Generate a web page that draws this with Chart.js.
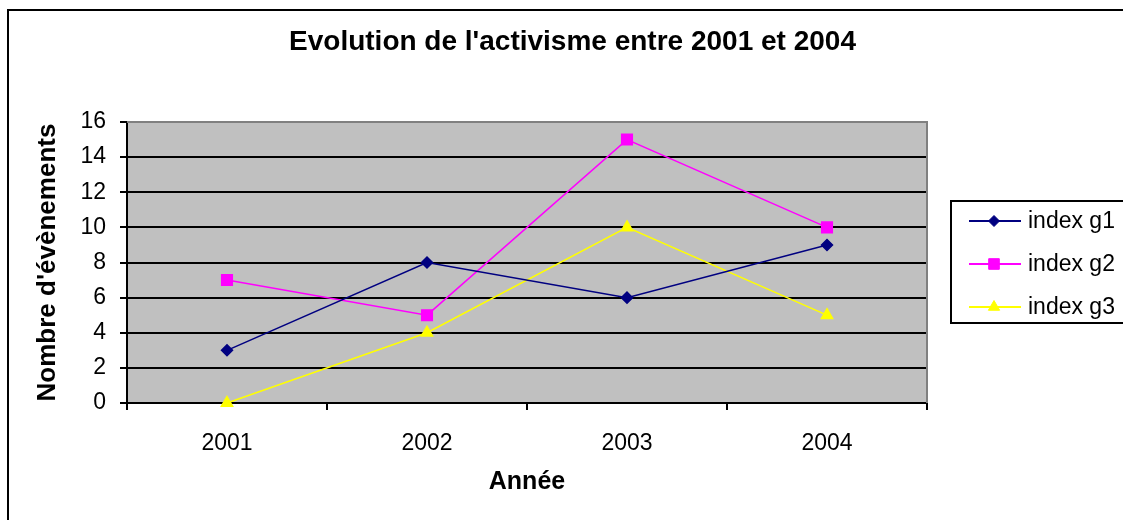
<!DOCTYPE html>
<html>
<head>
<meta charset="utf-8">
<script src="https://cdn.jsdelivr.net/npm/chart.js@4.4.1/dist/chart.umd.min.js"></script>
<style>
  html, body { margin: 0; padding: 0; background: #fff; }
</style>
</head>
<body>
<canvas id="myChart" width="1123" height="520"></canvas>
<script>
const years = ['2001', '2002', '2003', '2004'];
const indexG1 = [3, 8, 6, 9];
const indexG2 = [7, 5, 15, 10];
const indexG3 = [0, 4, 10, 5];
const seriesNames = ['index g1', 'index g2', 'index g3'];
const yMin = 0;
const yMax = 16;
const yStep = 2;

const FONT = "'Liberation Sans', Arial, sans-serif";
Chart.defaults.font.family = FONT;
Chart.defaults.color = '#000';

// gray plot area + outer frame (left and top edges only)
const frame = {
  id: 'frame',
  beforeDraw(chart) {
    const {ctx, chartArea: a} = chart;
    ctx.save();
    ctx.fillStyle = '#fff';
    ctx.fillRect(0, 0, chart.width, chart.height);
    ctx.fillStyle = '#c0c0c0';
    ctx.fillRect(a.left, a.top, a.right - a.left, a.bottom - a.top);
    ctx.strokeStyle = '#000';
    ctx.lineWidth = 2;
    ctx.beginPath();
    ctx.moveTo(8, chart.height);
    ctx.lineTo(8, 10);
    ctx.lineTo(chart.width, 10);
    ctx.stroke();
    ctx.restore();
  },
  beforeDatasetsDraw(chart) {
    const {ctx, chartArea: a} = chart;
    ctx.save();
    ctx.strokeStyle = '#808080';
    ctx.lineWidth = 2;
    ctx.beginPath();
    ctx.moveTo(a.left, a.top);
    ctx.lineTo(a.right, a.top);
    ctx.lineTo(a.right, a.bottom);
    ctx.stroke();
    ctx.restore();
  }
};

// Excel-like legend box on the right
const boxLegend = {
  id: 'boxLegend',
  afterDraw(chart) {
    const {ctx} = chart;
    const rows = [221, 264, 307];
    ctx.save();
    ctx.strokeStyle = '#000';
    ctx.lineWidth = 2;
    ctx.strokeRect(951, 201, 200, 122);
    chart.data.datasets.forEach((ds, i) => {
      const y = rows[i];
      ctx.strokeStyle = ds.borderColor;
      ctx.lineWidth = 2;
      ctx.beginPath();
      ctx.moveTo(969, y);
      ctx.lineTo(1021, y);
      ctx.stroke();
      ctx.fillStyle = ds.pointBackgroundColor;
      ctx.strokeStyle = ds.pointBorderColor;
      ctx.lineWidth = 1;
      Chart.helpers.drawPoint(ctx, {pointStyle: ds.pointStyle, radius: ds.pointRadius, borderWidth: 1, rotation: 0}, 994, y);
      ctx.fillStyle = '#000';
      ctx.font = '23px ' + FONT;
      ctx.textBaseline = 'middle';
      ctx.textAlign = 'left';
      ctx.fillText(ds.label, 1028, y + 1);
    });
    ctx.restore();
  }
};

const ctx = document.getElementById('myChart').getContext('2d');

const activismChart = new Chart(ctx, {
  type: 'line',
  data: {
    labels: years,
    datasets: [
      {
        label: seriesNames[0],
        data: indexG1,
        borderColor: '#000080',
        backgroundColor: '#000080',
        pointBackgroundColor: '#000080',
        pointBorderColor: '#000080',
        pointStyle: 'rectRot',
        pointRadius: 5.5,
        borderWidth: 1.5,
        tension: 0,
        clip: false
      },
      {
        label: seriesNames[1],
        data: indexG2,
        borderColor: '#ff00ff',
        backgroundColor: '#ff00ff',
        pointBackgroundColor: '#ff00ff',
        pointBorderColor: '#ff00ff',
        pointStyle: 'rect',
        pointRadius: 7.5,
        borderWidth: 1.5,
        tension: 0,
        clip: false
      },
      {
        label: seriesNames[2],
        data: indexG3,
        borderColor: '#ffff00',
        backgroundColor: '#ffff00',
        pointBackgroundColor: '#ffff00',
        pointBorderColor: '#ffff00',
        pointStyle: 'triangle',
        pointRadius: 6.5,
        borderWidth: 1.5,
        tension: 0,
        clip: false
      }
    ]
  },
  options: {
    responsive: false,
    animation: false,
    layout: {
      padding: {left: 22, right: 0, top: 0, bottom: 0}
    },
    plugins: {
      legend: {display: false},
      tooltip: {enabled: false},
      title: {
        display: true,
        text: "Evolution de l'activisme entre 2001 et 2004",
        color: '#000',
        font: {size: 28, weight: 'bold'},
        padding: {top: 25.2, bottom: 63.2}
      }
    },
    scales: {
      x: {
        offset: true,
        grid: {
          offset: true,
          drawOnChartArea: false,
          tickLength: 7,
          lineWidth: 2,
          color: '#000'
        },
        border: {color: '#000', width: 2},
        ticks: {
          color: '#000',
          font: {size: 23},
          padding: 20,
          maxRotation: 0
        },
        title: {
          display: true,
          text: 'Année',
          color: '#000',
          font: {size: 25, weight: 'bold'},
          padding: {top: 4, bottom: 23}
        },
        afterFit: s => { s.height = 117; }
      },
      y: {
        min: yMin,
        max: yMax,
        ticks: {
          stepSize: yStep,
          color: '#000',
          font: {size: 23},
          padding: 14
        },
        grid: {
          color: c => (c.tick && c.tick.value === yMax) ? '#808080' : '#000',
          tickColor: '#000',
          lineWidth: 2,
          tickLength: 7
        },
        border: {color: '#000', width: 2},
        title: {
          display: true,
          text: "Nombre d'évènements",
          color: '#000',
          font: {size: 26, weight: 'bold'},
          padding: {top: 10.4, bottom: 4}
        },
        afterFit: s => { s.width = 105; }
      },
      // empty right axis that only keeps room for the legend box
      legendRoom: {
        type: 'linear',
        position: 'right',
        grid: {display: false},
        ticks: {display: false},
        border: {display: false},
        afterFit: s => { s.width = 196; }
      }
    }
  },
  plugins: [frame, boxLegend]
});
</script>
</body>
</html>
